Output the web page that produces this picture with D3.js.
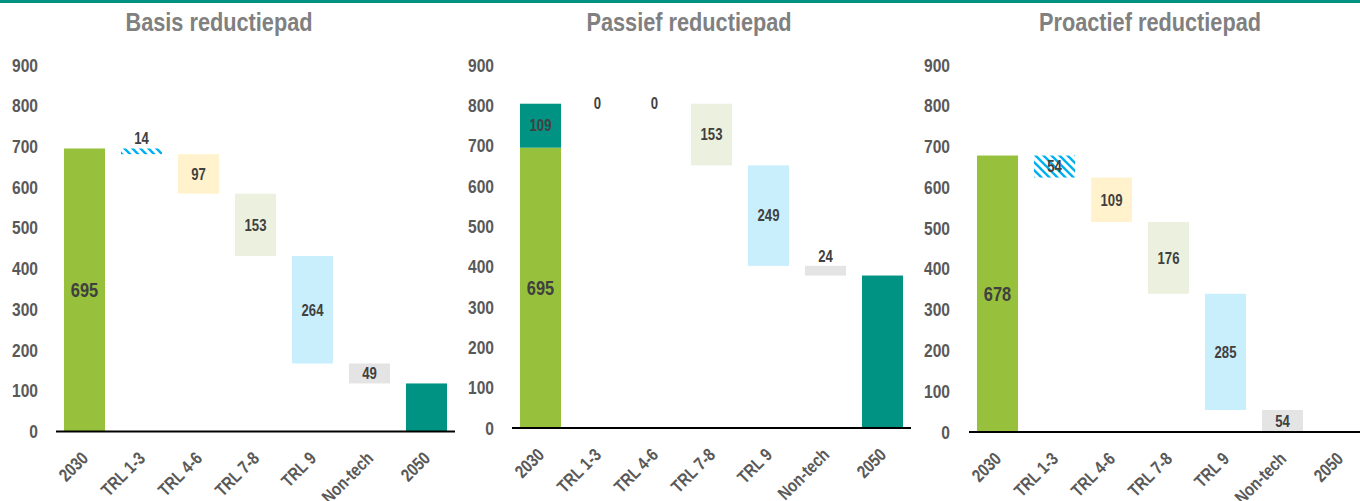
<!DOCTYPE html>
<html>
<head>
<meta charset="utf-8">
<script src="https://cdn.jsdelivr.net/npm/d3@7"></script>
<style>
  body { margin: 0; background: #fff; }
  svg { display: block; font-family: "Liberation Sans", Arial, sans-serif; font-weight: bold; }
</style>
</head>
<body>
<div id="chart"></div>
<script>
// data
var categories = ["2030", "TRL 1-3", "TRL 4-6", "TRL 7-8", "TRL 9", "Non-tech", "2050"];
var titles = ["Basis reductiepad", "Passief reductiepad", "Proactief reductiepad"];
var start2030 = [695, 695, 678];
var extra2030 = [0, 109, 0];
var reductions = [
    [14, 97, 153, 264, 49],
    [0, 0, 153, 249, 24],
    [54, 109, 176, 285, 54]
];
var end2050 = [118, 378, 0];
var yTicks = [0, 100, 200, 300, 400, 500, 600, 700, 800, 900];

// colours per category step (TRL 1-3 is hatched)
var stepColors = ["url(#hatch)", "#fff2cc", "#ebf1de", "#c9eefc", "#e4e4e4"];

var W = 1360, H = 501;
var narrow = 0.82; // squeeze text horizontally, like a narrow face

var svg = d3.select("#chart")
    .append("svg")
    .attr("width", W)
    .attr("height", H);

var defs = svg.append("defs");
var pat = defs.append("pattern")
    .attr("id", "hatch")
    .attr("patternUnits", "userSpaceOnUse")
    .attr("width", 8)
    .attr("height", 8);
pat.append("rect").attr("width", 8).attr("height", 8).attr("fill", "#fff");
pat.append("path")
    .attr("d", "M-2,-2 L10,10 M-2,6 L2,10 M6,-2 L10,2")
    .attr("stroke", "#00b0f0")
    .attr("stroke-width", 2.4);

// top line
svg.append("rect")
    .attr("x", 0).attr("y", 0)
    .attr("width", W).attr("height", 3)
    .attr("fill", "#009383");

// panel placement
var panels = [
    {x0: 56, x1: 455, y0: 431.5, titleX: 219, tickX: 38},
    {x0: 512, x1: 911, y0: 428, titleX: 689, tickX: 494},
    {x0: 969, x1: 1368, y0: 432, titleX: 1150, tickX: 950}
];

panels.forEach(function(p, i) {

    var g = svg.append("g");

    var x = d3.scaleBand()
        .domain(categories)
        .range([p.x0, p.x1])
        .paddingInner(0.28)
        .paddingOuter(0.14);

    var y = d3.scaleLinear()
        .domain([0, 900])
        .range([p.y0, 65]);

    // title
    g.append("text")
        .attr("transform", "translate(" + p.titleX + ",31) scale(" + narrow + ",1)")
        .attr("text-anchor", "middle")
        .attr("fill", "#808080")
        .style("font-size", "26.5px")
        .text(titles[i]);

    // y axis: labels only
    var yAxis = g.append("g")
        .attr("transform", "translate(" + p.tickX + ",0)")
        .call(d3.axisLeft(y).tickValues(yTicks).tickSize(0).tickPadding(0));
    yAxis.select(".domain").remove();
    yAxis.selectAll("text")
        .attr("x", 0)
        .attr("transform", "scale(" + narrow + ",1)")
        .attr("fill", "#595959")
        .style("font-size", "19px")
        .style("font-family", null);

    // build waterfall
    var bars = [];
    var top = start2030[i] + extra2030[i];
    bars.push({cat: "2030", lo: 0, hi: start2030[i], fill: "#97c13c", label: start2030[i], big: true});
    if (extra2030[i] > 0) {
        bars.push({cat: "2030", lo: start2030[i], hi: top, fill: "#009383", label: extra2030[i]});
    }
    var level = top;
    reductions[i].forEach(function(v, j) {
        bars.push({cat: categories[j + 1], lo: level - v, hi: level, fill: stepColors[j], label: v});
        level -= v;
    });
    bars.push({cat: "2050", lo: 0, hi: end2050[i], fill: "#009383", label: null});

    g.selectAll("rect.bar")
        .data(bars)
        .enter()
        .append("rect")
        .attr("class", "bar")
        .attr("x", function(d) { return x(d.cat); })
        .attr("width", x.bandwidth())
        .attr("y", function(d) { return y(d.hi); })
        .attr("height", function(d) { return y(d.lo) - y(d.hi); })
        .attr("fill", function(d) { return d.fill; });

    // value labels
    g.selectAll("text.val")
        .data(bars.filter(function(d) { return d.label !== null; }))
        .enter()
        .append("text")
        .attr("class", "val")
        .attr("transform", function(d) {
            var h = y(d.lo) - y(d.hi);
            var ty = (d.label > 0 && h < 15) ? y(d.hi) - 10 : (y(d.lo) + y(d.hi)) / 2;
            return "translate(" + (x(d.cat) + x.bandwidth() / 2) + "," + ty + ") scale(" + narrow + ",1)";
        })
        .attr("dy", "0.36em")
        .attr("text-anchor", "middle")
        .attr("fill", "#404040")
        .style("font-size", function(d) { return d.big ? "20px" : "16px"; })
        .text(function(d) { return d.label; });

    // x axis line
    g.append("line")
        .attr("x1", p.x0).attr("x2", p.x1)
        .attr("y1", p.y0).attr("y2", p.y0)
        .attr("stroke", "#000")
        .attr("stroke-width", 2);

    // x labels rotated
    g.selectAll("text.cat")
        .data(categories)
        .enter()
        .append("text")
        .attr("class", "cat")
        .attr("transform", function(d) {
            return "translate(" + (x(d) + x.bandwidth() / 2 - 4) + "," + (p.y0 + 19) + ") rotate(-45) scale(" + narrow + ",1)";
        })
        .attr("text-anchor", "end")
        .attr("dy", "0.7em")
        .attr("fill", "#595959")
        .style("font-size", "18px")
        .text(function(d) { return d; });
});
</script>
</body>
</html>
